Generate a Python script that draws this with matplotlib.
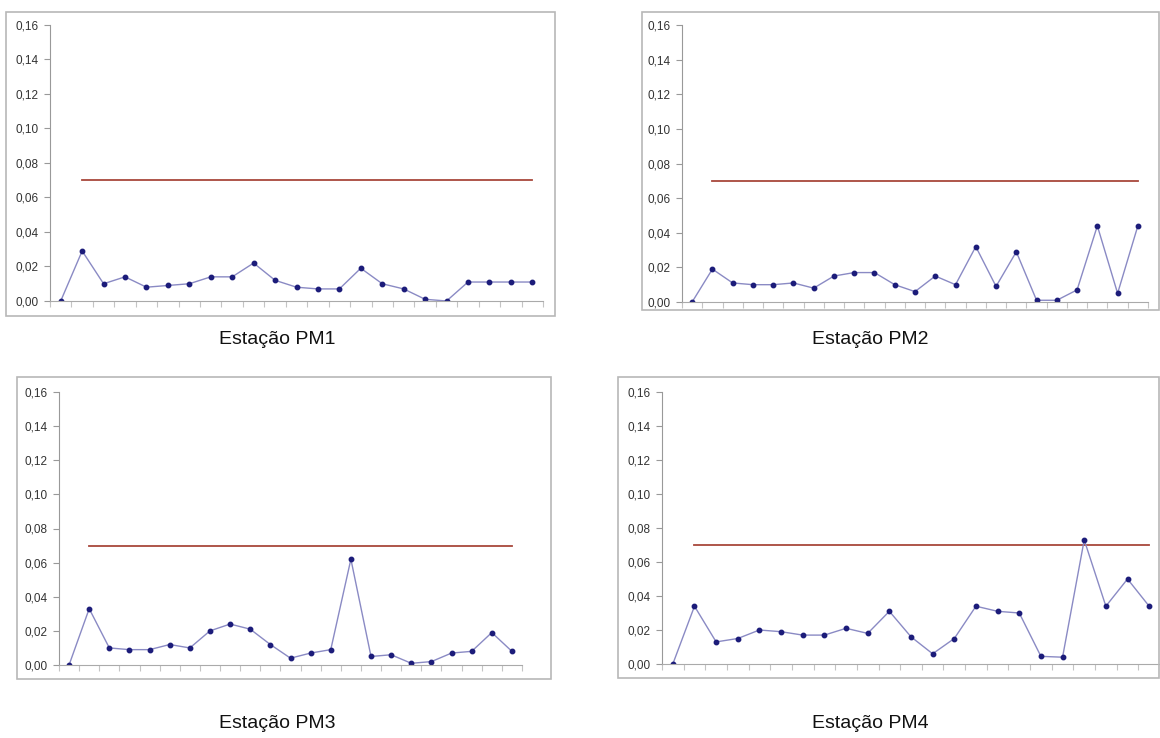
import numpy as np
import matplotlib
matplotlib.use("Agg")
import matplotlib.pyplot as plt
from matplotlib.patches import Rectangle
from matplotlib.ticker import FuncFormatter

# dados
stations = ["Estação PM1", "Estação PM2", "Estação PM3", "Estação PM4"]
n_points = 23
limit_value = 0.07

pm1 = [0.000, 0.029, 0.010, 0.014, 0.008, 0.009, 0.010, 0.014, 0.014, 0.022, 0.012, 0.008,
       0.007, 0.007, 0.019, 0.010, 0.007, 0.001, 0.000, 0.011, 0.011, 0.011, 0.011]
pm2 = [0.000, 0.019, 0.011, 0.010, 0.010, 0.011, 0.008, 0.015, 0.017, 0.017, 0.010, 0.006,
       0.015, 0.010, 0.032, 0.009, 0.029, 0.001, 0.001, 0.007, 0.044, 0.005, 0.044]
pm3 = [0.000, 0.033, 0.010, 0.009, 0.009, 0.012, 0.010, 0.020, 0.024, 0.021, 0.012, 0.004,
       0.007, 0.009, 0.062, 0.005, 0.006, 0.001, 0.002, 0.007, 0.008, 0.019, 0.008]
pm4 = [0.000, 0.034, 0.013, 0.015, 0.020, 0.019, 0.017, 0.017, 0.021, 0.018, 0.031, 0.016,
       0.006, 0.015, 0.034, 0.031, 0.030, 0.0045, 0.004, 0.073, 0.034, 0.050, 0.034]
series = [pm1, pm2, pm3, pm4]

# limite: primeira categoria vazia
limit = [np.nan] + [limit_value] * (n_points - 1)
yticks = [0.00, 0.02, 0.04, 0.06, 0.08, 0.10, 0.12, 0.14, 0.16]

W, H = 1160, 738
fig = plt.figure(figsize=(W / 100, H / 100), dpi=100)
plt.rcParams["font.family"] = ["Liberation Sans", "DejaVu Sans"]

# posicoes em pixels: (frame x0, y0, x1, y1), (axes x0, y_top, x1, y_bottom), titulo (x, y)
layout = [
    ((6, 12, 555, 316), (50, 25, 543, 301), (277, 339)),
    ((642, 12, 1159, 310), (682, 25, 1148, 302), (870, 339)),
    ((17, 377, 551, 679), (59, 392, 522, 665), (277, 724)),
    ((618, 377, 1159, 678), (662, 392, 1160, 664), (870, 724)),
]

def fx(px):
    return px / W

def fy(py):
    return 1 - py / H

fmt = FuncFormatter(lambda v, pos: f"{v:.2f}".replace(".", ","))

for name, values, (frame, box, title) in zip(stations, series, layout):
    # moldura cinza do grafico
    fig.add_artist(Rectangle((fx(frame[0]), fy(frame[3])), fx(frame[2] - frame[0]), (frame[3] - frame[1]) / H,
                             transform=fig.transFigure, fill=False, edgecolor="#b8b8b8", linewidth=1.2))

    ax = fig.add_axes([fx(box[0]), fy(box[3]), fx(box[2] - box[0]), (box[3] - box[1]) / H])
    x = np.arange(n_points)
    ax.plot(x, limit, color="#a8483c", linewidth=1.3)
    ax.plot(x, values, color="#8a8ac4", linewidth=1.0, marker="o", markersize=3.2,
            markerfacecolor="#1c1c7a", markeredgecolor="#1c1c7a")

    ax.set_xlim(-0.5, n_points - 0.5)
    ax.set_ylim(0, 0.16)
    ax.set_yticks(yticks)
    ax.yaxis.set_major_formatter(fmt)
    ax.set_xticks(np.arange(-0.5, n_points, 1.0))
    ax.set_xticklabels([])
    ax.tick_params(axis="y", length=4, width=0.8, color="#999999", labelsize=8.5,
                   labelcolor="#333333", pad=4)
    ax.tick_params(axis="x", length=4, width=0.8, color="#c4c4c4")

    ax.spines["top"].set_visible(False)
    ax.spines["right"].set_visible(False)
    ax.spines["left"].set_color("#999999")
    ax.spines["bottom"].set_color("#aaaaaa")
    ax.patch.set_visible(False)

    fig.text(fx(title[0]), fy(title[1]), name, ha="center", va="center", fontsize=14, color="#111111")

fig.savefig("out.png", dpi=100)
plt.close()
